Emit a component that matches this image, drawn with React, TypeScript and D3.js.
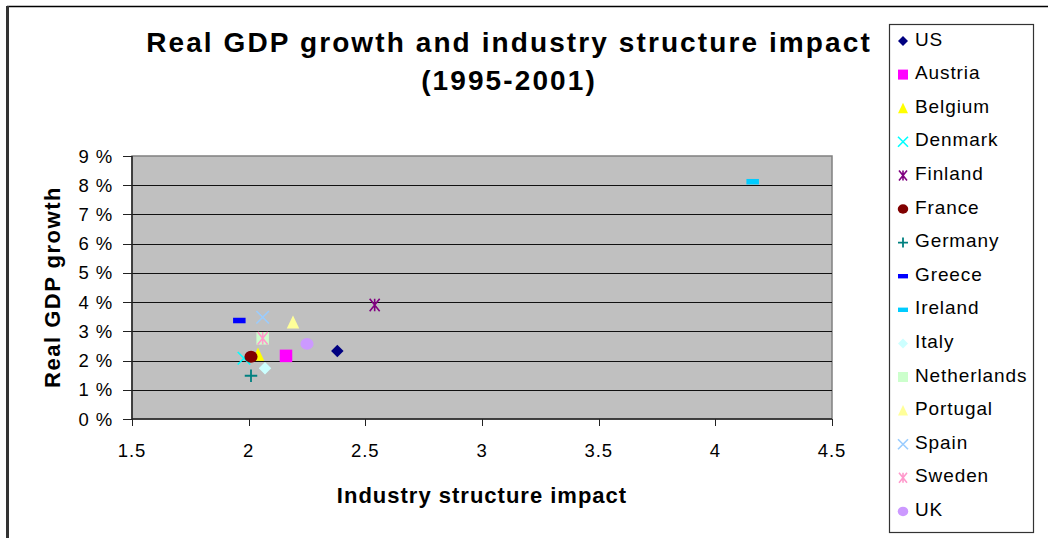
import React from "react";
import * as d3 from "d3";

const countries = ["US", "Austria", "Belgium", "Denmark", "Finland", "France", "Germany", "Greece", "Ireland", "Italy", "Netherlands", "Portugal", "Spain", "Sweden", "UK"];
const impactValues = [2.38, 2.16, 2.04, 1.98, 2.54, 2.01, 2.01, 1.96, 4.16, 2.07, 2.06, 2.19, 2.06, 2.06, 2.25];
const growthValues = [2.33, 2.16, 2.21, 2.08, 3.9, 2.13, 1.48, 3.37, 8.12, 1.74, 2.76, 3.31, 3.48, 2.76, 2.57];
const colors = ["#000080", "#FF00FF", "#FFFF00", "#00FFFF", "#800080", "#800000", "#008080", "#0000FF", "#00CCFF", "#CCFFFF", "#CCFFCC", "#FFFF99", "#99CCFF", "#FF99CC", "#CC99FF"];
const shapes = ["diamond", "square", "triangle", "x", "star", "circle", "plus", "dash", "dash", "diamond", "square", "triangle", "x", "star", "circle"];
const xTicks = [1.5, 2, 2.5, 3, 3.5, 4, 4.5];
const yTicks = [0, 1, 2, 3, 4, 5, 6, 7, 8, 9];

const W = 1048, H = 538;
const plot = { left: 132, right: 832, top: 156, bottom: 419 };
const x = d3.scaleLinear().domain([1.5, 4.5]).range([plot.left, plot.right]);
const y = d3.scaleLinear().domain([0, 9]).range([plot.bottom, plot.top]);

function Marker({ shape, color, cx, cy, s }: { shape: string; color: string; cx: number; cy: number; s: number }) {
  const h = s / 2;
  switch (shape) {
    case "diamond":
      return <path d={`M${cx},${cy - h}L${cx + h},${cy}L${cx},${cy + h}L${cx - h},${cy}Z`} fill={color} />;
    case "square":
      return <rect x={cx - h} y={cy - h} width={s} height={s} fill={color} />;
    case "triangle":
      return <path d={`M${cx},${cy - h * 1.1}L${cx + h},${cy + h}L${cx - h},${cy + h}Z`} fill={color} />;
    case "circle":
      return <ellipse cx={cx} cy={cy} rx={h * 1.05} ry={h * 0.95} fill={color} />;
    case "x":
      return <path d={`M${cx - h},${cy - h}L${cx + h},${cy + h}M${cx - h},${cy + h}L${cx + h},${cy - h}`} stroke={color} strokeWidth={1.6} fill="none" />;
    case "star":
      return <path d={`M${cx - h * 0.8},${cy - h}L${cx + h * 0.8},${cy + h}M${cx - h * 0.8},${cy + h}L${cx + h * 0.8},${cy - h}M${cx},${cy - h}L${cx},${cy + h}`} stroke={color} strokeWidth={1.6} fill="none" />;
    case "plus":
      return <path d={`M${cx - h},${cy}L${cx + h},${cy}M${cx},${cy - h}L${cx},${cy + h}`} stroke={color} strokeWidth={1.8} fill="none" />;
    case "dash":
      return <rect x={cx - h} y={cy - s * 0.22} width={s} height={s * 0.44} fill={color} />;
    default:
      return null;
  }
}

export default function App() {
  const legendTop = 24, legendStep = 33.6;
  return (
    <svg width={W} height={H} style={{ position: "absolute", left: 0, top: 0, background: "#fff" }} fontFamily="Liberation Sans, Arial, sans-serif">
      {/* outer frame */}
      <line x1={7} y1={6.5} x2={W} y2={6.5} stroke="#000" strokeWidth={1.3} />
      <line x1={7.5} y1={6} x2={7.5} y2={H} stroke="#333" strokeWidth={3} />

      {/* title */}
      <text x={509} y={52} textAnchor="middle" fontSize={28} fontWeight="bold" letterSpacing={2.1}>Real GDP growth and industry structure impact</text>
      <text x={509} y={90} textAnchor="middle" fontSize={28} fontWeight="bold" letterSpacing={2.1}>(1995-2001)</text>

      {/* plot area */}
      <rect x={plot.left} y={plot.top} width={plot.right - plot.left} height={plot.bottom - plot.top} fill="#C0C0C0" stroke="#808080" strokeWidth={1.5} />
      {yTicks.filter((t) => t > 0 && t < 9).map((t) => (
        <line key={t} x1={plot.left} x2={plot.right} y1={Math.round(y(t)) + 0.5} y2={Math.round(y(t)) + 0.5} stroke="#111" strokeWidth={1} />
      ))}
      {/* axes */}
      <line x1={plot.left} x2={plot.left} y1={plot.top} y2={plot.bottom} stroke="#222" strokeWidth={1.5} />
      <line x1={plot.left} x2={plot.right} y1={plot.bottom} y2={plot.bottom} stroke="#222" strokeWidth={1.5} />
      {yTicks.map((t) => (
        <g key={t}>
          <line x1={plot.left - 9} x2={plot.left} y1={Math.round(y(t)) + 0.5} y2={Math.round(y(t)) + 0.5} stroke="#222" strokeWidth={1} />
          <text x={113} y={y(t) + 6.5} textAnchor="end" fontSize={18.5} letterSpacing={0.9}>{`${t} %`}</text>
        </g>
      ))}
      {xTicks.map((t) => (
        <g key={t}>
          <line x1={Math.round(x(t)) + 0.5} x2={Math.round(x(t)) + 0.5} y1={plot.bottom} y2={plot.bottom + 7} stroke="#222" strokeWidth={1} />
          <text x={x(t)} y={457} textAnchor="middle" fontSize={18.5} letterSpacing={0.9}>{String(t)}</text>
        </g>
      ))}

      {/* axis titles */}
      <text x={482} y={503} textAnchor="middle" fontSize={22} fontWeight="bold" letterSpacing={1}>Industry structure impact</text>
      <text transform={`translate(60,${287}) rotate(-90)`} textAnchor="middle" fontSize={22} fontWeight="bold" letterSpacing={1.5}>Real GDP growth</text>

      {/* points */}
      {countries.map((c, i) => (
        <Marker key={c} shape={shapes[i]} color={colors[i]} cx={x(impactValues[i])} cy={y(growthValues[i])} s={shapes[i] === "dash" ? 12.5 : 12.5} />
      ))}

      {/* legend */}
      <rect x={889.5} y={legendTop + 0.5} width={144} height={508} fill="#fff" stroke="#333" strokeWidth={1.2} />
      {countries.map((c, i) => {
        const cy = 39 + i * legendStep;
        return (
          <g key={c}>
            <Marker shape={shapes[i]} color={colors[i]} cx={903} cy={cy + 2} s={10} />
            <text x={915} y={cy + 6.5} fontSize={19} letterSpacing={0.9}>{c}</text>
          </g>
        );
      })}
    </svg>
  );
}
